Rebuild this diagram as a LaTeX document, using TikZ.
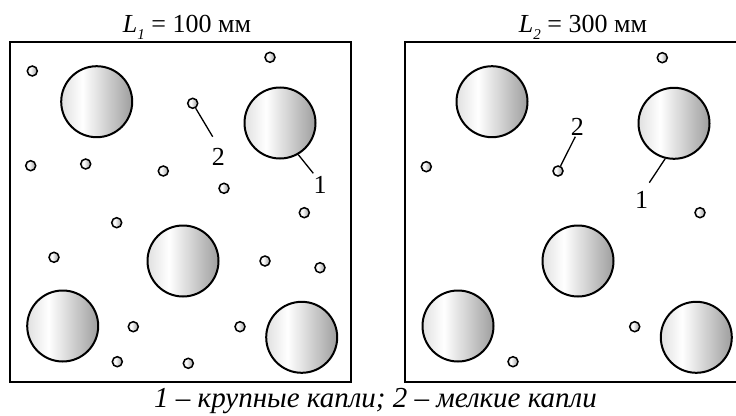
\documentclass[tikz,border=0pt]{standalone}
\usepackage{fontspec}
\setmainfont{Liberation Serif}
\pgfdeclarehorizontalshading{dropshade}{100bp}{color(0bp)=(black!12); color(25bp)=(black!12); color(40bp)=(white); color(75bp)=(black!38); color(100bp)=(black!38)}
\tikzset{
  frame/.style={draw=black, line width=2pt},
  bigdrop/.style={circle, draw=black, line width=2pt, shading=dropshade, minimum size=71pt, inner sep=0pt},
  smalldrop/.style={circle, draw=black, line width=1.5pt, shading=dropshade, minimum size=10pt, inner sep=0pt},
  leader/.style={draw=black, line width=1.3pt},
  numlabel/.style={font=\fontsize{26}{28}\selectfont, inner sep=0pt},
  title/.style={font=\fontsize{26}{28}\selectfont, anchor=base, inner sep=0pt},
  caption/.style={font=\fontsize{29}{31}\selectfont\itshape, anchor=base, inner sep=0pt}
}
\begin{document}
\begin{tikzpicture}[x=1pt, y=-1pt]
\useasboundingbox (0,0) rectangle (736,415);
\clip (0,0) rectangle (736,415);
% titles
\node[title] (t1) at (187,32) {\textit{L}\raisebox{-0.28em}{\fontsize{15}{15}\selectfont\itshape 1}~=~100~мм};
\node[title] (t2) at (583,32) {\textit{L}\raisebox{-0.28em}{\fontsize{15}{15}\selectfont\itshape 2}~=~300~мм};
% frames
\draw[frame] (10,42) rectangle (350.5,382);
\draw[frame] (404.5,42) rectangle (746,382);
% left panel big drops
\node[bigdrop] (a1) at (96.7,101.7) {};
\node[bigdrop] (a2) at (280,123) {};
\node[bigdrop] (a3) at (183,261) {};
\node[bigdrop] (a4) at (62.7,326) {};
\node[bigdrop] (a5) at (301.7,337.3) {};
% left panel small drops
\node[smalldrop] (s1) at (32.3,71) {};
\node[smalldrop] (s2) at (270,57.3) {};
\node[smalldrop] (s3) at (192.7,103.3) {};
\node[smalldrop] (s4) at (30.7,165.7) {};
\node[smalldrop] (s5) at (85.7,164) {};
\node[smalldrop] (s6) at (163.3,171) {};
\node[smalldrop] (s7) at (224,188.3) {};
\node[smalldrop] (s8) at (304.3,212.7) {};
\node[smalldrop] (s9) at (116.7,222.7) {};
\node[smalldrop] (s10) at (54,257.3) {};
\node[smalldrop] (s11) at (265,261) {};
\node[smalldrop] (s12) at (320,267.7) {};
\node[smalldrop] (s13) at (133.3,326.7) {};
\node[smalldrop] (s14) at (240,326.7) {};
\node[smalldrop] (s15) at (117.3,361.7) {};
\node[smalldrop] (s16) at (188.3,363.3) {};
% left labels
\node[numlabel] (l2a) at (218.3,156.5) {2};
\node[numlabel] (l1a) at (320,185) {1};
\coordinate (e2a) at (212.7,136.7);
\coordinate (e1a) at (313.3,173.3);
\draw[leader] (s3) -- (e2a);
\draw[leader] (a2.-60.5) -- (e1a);
% right panel big drops
\node[bigdrop] (b1) at (492,101.7) {};
\node[bigdrop] (b2) at (674,123.3) {};
\node[bigdrop] (b3) at (578,261) {};
\node[bigdrop] (b4) at (458,326) {};
\node[bigdrop] (b5) at (696.3,337.3) {};
% right panel small drops
\node[smalldrop] (r1) at (662.3,57.7) {};
\node[smalldrop] (r2) at (426.3,166.7) {};
\node[smalldrop] (r3) at (558,171) {};
\node[smalldrop] (r4) at (700,212.7) {};
\node[smalldrop] (r5) at (634.7,326.7) {};
\node[smalldrop] (r6) at (513,361.7) {};
% right labels
\node[numlabel] (l2b) at (577.3,126.5) {2};
\node[numlabel] (l1b) at (641.7,200) {1};
\coordinate (e2b) at (575.3,136.7);
\coordinate (e1b) at (649.3,182.7);
\draw[leader] (r3) -- (e2b);
\draw[leader] (b2.-104) -- (e1b);
% caption
\node[caption] (cap) at (375.5,407) {1 – крупные капли; 2 – мелкие капли};
\end{tikzpicture}
\end{document}
